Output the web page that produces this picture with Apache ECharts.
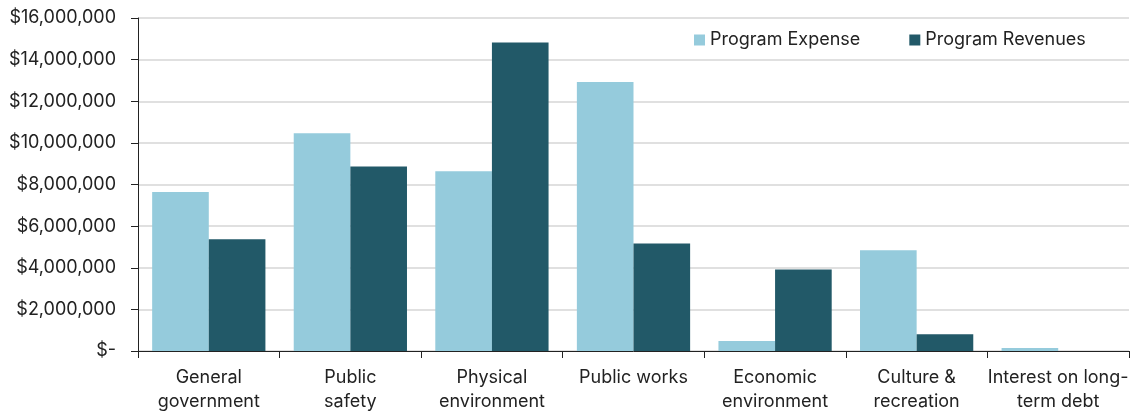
<!DOCTYPE html>
<html>
<head>
<meta charset="utf-8">
<script src="https://cdn.jsdelivr.net/npm/echarts@6/dist/echarts.min.js"></script>
<style>
  html, body { margin: 0; padding: 0; background: #fff; }
  #chart { width: 1133px; height: 411px; }
</style>
</head>
<body>
<div id="chart"></div>
<script>
// Program expense vs. program revenues by function
const categories = [
  'General\ngovernment',
  'Public\nsafety',
  'Physical\nenvironment',
  'Public works',
  'Economic\nenvironment',
  'Culture &\nrecreation',
  'Interest on long-\nterm debt'
];
const programExpense = [7640000, 10460000, 8640000, 12920000, 480000, 4840000, 140000];
const programRevenues = [5370000, 8860000, 14820000, 5160000, 3910000, 800000, 0];
const yTicks = { min: 0, max: 16000000, step: 2000000 };

const FONT = 'Inter, "Noto Sans", sans-serif';

function money(v) {
  if (v === 0) return '$-';
  return '$' + v.toLocaleString('en-US');
}

const chart = echarts.init(document.getElementById('chart'), null, { renderer: 'canvas' });
chart.setOption({
  animation: false,
  textStyle: { fontFamily: FONT },
  grid: { left: 138, right: 4, top: 18, bottom: 60, containLabel: false, outerBoundsMode: 'none' },
  legend: {
    data: ['Program Expense', 'Program Revenues'],
    top: 26,
    left: 689,
    itemWidth: 11,
    itemHeight: 11,
    itemGap: 49,
    icon: 'rect',
    textStyle: { fontFamily: FONT, fontSize: 18, color: '#222' }
  },
  xAxis: {
    type: 'category',
    data: categories,
    axisLine: { lineStyle: { color: '#222', width: 1 } },
    axisTick: { show: true, length: 7, lineStyle: { color: '#222' } },
    axisLabel: {
      interval: 0,
      margin: 15,
      fontFamily: FONT,
      fontSize: 18,
      color: '#222',
      lineHeight: 24,
      verticalAlign: 'top'
    }
  },
  yAxis: {
    type: 'value',
    min: yTicks.min,
    max: yTicks.max,
    interval: yTicks.step,
    axisLine: { show: true, lineStyle: { color: '#222', width: 1 } },
    axisTick: { show: true, length: 7, lineStyle: { color: '#222' } },
    splitLine: { lineStyle: { color: '#d6d6d6', width: 1.5 } },
    axisLabel: {
      margin: 22,
      fontFamily: FONT,
      fontSize: 18,
      color: '#222',
      formatter: money
    }
  },
  series: [
    {
      name: 'Program Expense',
      type: 'bar',
      data: programExpense,
      barGap: '0%',
      barCategoryGap: '20%',
      itemStyle: { color: '#95cbdc' }
    },
    {
      name: 'Program Revenues',
      type: 'bar',
      data: programRevenues,
      itemStyle: { color: '#225968' }
    }
  ]
});
</script>
</body>
</html>
